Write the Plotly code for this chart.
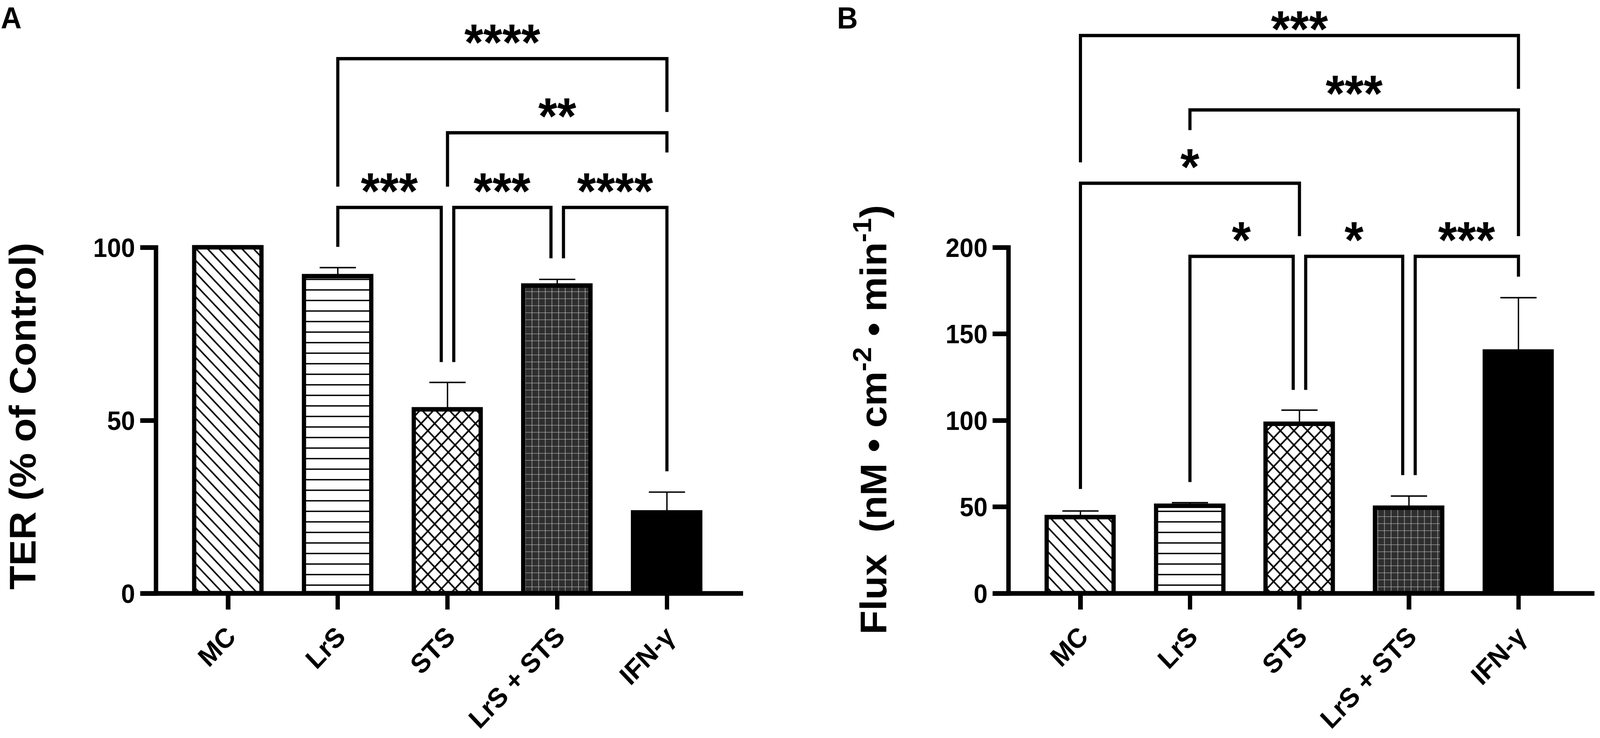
import plotly.graph_objects as go

# ---------------- data ----------------
categories = ["MC", "LrS", "STS", "LrS + STS", "IFN-γ"]

ter_mean = [100.0, 91.6, 53.2, 88.9, 23.3]
ter_sem = [0.0, 2.6, 7.8, 1.9, 6.0]
ter_ticks = [0, 50, 100]

flux_mean = [43.9, 50.6, 98.0, 49.5, 139.8]
flux_sem = [3.8, 1.9, 8.0, 6.8, 31.2]
flux_ticks = [0, 50, 100, 150, 200]

# significance brackets: left bar, right bar, bracket height, left-leg end, right-leg end,
# label, left-leg nudge, right-leg nudge (-1 / 0 / +1)
ter_brackets = [
    (1, 2, 111.6, 100.2, 66.9, "***", 0, -1),
    (2, 3, 111.6, 66.9, 96.9, "***", 1, -1),
    (3, 4, 111.6, 96.9, 35.3, "****", 1, 0),
    (2, 4, 133.2, 117.6, 127.5, "**", 0, 0),
    (1, 4, 154.6, 117.6, 139.2, "****", 0, 0),
]
flux_brackets = [
    (1, 2, 194.9, 64.4, 117.7, "*", 0, -1),
    (2, 3, 194.9, 117.7, 68.4, "*", 1, -1),
    (3, 4, 194.9, 68.4, 183.2, "***", 1, 0),
    (0, 2, 237.2, 60.4, 206.6, "*", 0, 0),
    (1, 4, 279.6, 267.9, 206.6, "***", 0, 0),
    (0, 4, 322.6, 249.3, 291.8, "***", 0, 0),
]

# ---------------- style ----------------
W, H = 4328, 1890
FONT = "Liberation Sans"
BLACK = "#000000"
X_RANGE = [-0.657, 4.694]
Y_BOTTOM_PX = 1551
PX_PER_UNIT_A = 9.04
PX_PER_UNIT_B = 4.52
AXIS_W = 12
TICK_LEN_Y = 42
TICK_LEN_X = 40
BRACKET_W = 8.5
NUDGE = 0.057
STAR_SIZE = 132
STAR_SHIFT = 42
STAR_HALF_BOX = 76  # half height of the star text box, px

patterns = dict(
    shape=["\\", "-", "x", "+", ""],
    bgcolor=["white", "white", "white", "#2e2e2e", BLACK],
    fgcolor=[BLACK, BLACK, BLACK, "#c8c8c8", BLACK],
    size=[22, 27, 26, 18, 10],
    solidity=[0.18, 0.13, 0.3, 0.13, 0.1],
)

panels = [
    dict(x0=422, x1=2010, mean=ter_mean, sem=ter_sem, ticks=ter_ticks,
         ppu=PX_PER_UNIT_A, brackets=ter_brackets, ax="x", ay="y",
         title="TER (% of Control)", title_x=61, title_y=1088,
         letter="A", letter_x=0),
    dict(x0=2728, x1=4313, mean=flux_mean, sem=flux_sem, ticks=flux_ticks,
         ppu=PX_PER_UNIT_B, brackets=flux_brackets, ax="x2", ay="y2",
         title="Flux\u00a0 (nM • cm<sup>-2</sup> • min<sup>-1</sup>)", title_x=2356, title_y=1097,
         letter="B", letter_x=2262),
]

fig = go.Figure()
shapes = []
annotations = []
layout = {}

for p in panels:
    xs = list(range(len(categories)))
    fig.add_trace(go.Bar(
        x=xs, y=p["mean"], width=0.613, xaxis=p["ax"], yaxis=p["ay"],
        marker=dict(color=BLACK, line=dict(color=BLACK, width=11.5),
                    pattern=dict(shape=patterns["shape"], bgcolor=patterns["bgcolor"],
                                 fgcolor=patterns["fgcolor"], size=patterns["size"],
                                 solidity=patterns["solidity"], fillmode="replace")),
        error_y=dict(type="data", symmetric=False, array=p["sem"],
                     arrayminus=[0] * len(xs), color=BLACK, thickness=3.7, width=49),
        showlegend=False, hoverinfo="skip",
    ))
    y_top = Y_BOTTOM_PX / p["ppu"]
    dom_w = p["x1"] - p["x0"]
    xname = "xaxis" if p["ax"] == "x" else "xaxis2"
    yname = "yaxis" if p["ay"] == "y" else "yaxis2"
    layout[xname] = dict(
        domain=[p["x0"] / W, p["x1"] / W], range=X_RANGE, anchor=p["ay"],
        tickmode="array", tickvals=xs, ticktext=categories, tickangle=-45,
        ticks="outside", ticklen=TICK_LEN_X, tickwidth=AXIS_W, tickcolor=BLACK,
        showline=False, showgrid=False, zeroline=False, fixedrange=True,
        tickfont=dict(family=FONT, size=70, color=BLACK, weight=700),
    )
    layout[yname] = dict(
        domain=[(H - Y_BOTTOM_PX) / H, 1.0], range=[0, y_top], anchor=p["ax"],
        tickmode="array", tickvals=p["ticks"], ticks="outside", ticklen=TICK_LEN_Y,
        tickwidth=AXIS_W, tickcolor=BLACK, showline=False, showgrid=False,
        zeroline=False, fixedrange=True,
        tickfont=dict(family=FONT, size=68, color=BLACK, weight=700),
    )
    xd = p["ax"] + " domain"
    yd = p["ay"] + " domain"
    # axis lines (GraphPad style: y line stops at the top tick, x line runs under the y ticks)
    shapes.append(dict(type="line", xref=xd, yref=yd, x0=-TICK_LEN_Y / dom_w, x1=1,
                       y0=0, y1=0, line=dict(color=BLACK, width=AXIS_W)))
    y_line_top = (max(p["ticks"]) + (AXIS_W / 2) / p["ppu"]) / y_top
    shapes.append(dict(type="line", xref=xd, yref=yd, x0=0, x1=0,
                       y0=-(AXIS_W / 2) / Y_BOTTOM_PX, y1=y_line_top,
                       line=dict(color=BLACK, width=AXIS_W)))
    # brackets
    for (i, j, h, yl, yr, lab, nl, nr) in p["brackets"]:
        xl = i + nl * NUDGE
        xr = j + nr * NUDGE
        shapes.append(dict(type="path", xref=p["ax"], yref=p["ay"],
                           path=f"M {xl},{yl} L {xl},{h} L {xr},{h} L {xr},{yr}",
                           line=dict(color=BLACK, width=BRACKET_W)))
        # keep the label's text box inside the page
        px_from_top = Y_BOTTOM_PX - h * p["ppu"]
        shift = min(STAR_SHIFT, px_from_top - STAR_HALF_BOX)
        annotations.append(dict(x=(xl + xr) / 2, y=h, xref=p["ax"], yref=p["ay"],
                                text=lab, showarrow=False, xanchor="center",
                                yanchor="middle", yshift=shift,
                                font=dict(family=FONT, size=STAR_SIZE, color=BLACK, weight=700)))
    # axis title
    annotations.append(dict(x=p["title_x"] / W, y=(H - p["title_y"]) / H, xref="paper",
                            yref="paper", text=p["title"], textangle=-90, showarrow=False,
                            xanchor="center", yanchor="middle",
                            font=dict(family=FONT, size=100, color=BLACK, weight=700)))
    # panel letter
    annotations.append(dict(x=p["letter_x"] / W, y=1.0, xref="paper", yref="paper",
                            text=p["letter"], showarrow=False, xanchor="left",
                            yanchor="top", font=dict(family=FONT, size=78, color=BLACK, weight=700)))

fig.update_layout(
    width=W, height=H, margin=dict(l=0, r=0, t=0, b=0),
    paper_bgcolor="white", plot_bgcolor="white",
    shapes=shapes, annotations=annotations, bargap=0, **layout,
)

# fit the fixed-size figure exactly into the browser viewport
fit_js = (
    "document.body.style.margin='0';"
    "document.body.style.overflow='hidden';"
    "document.body.style.background='white';"
    "var gd=document.getElementsByClassName('plotly-graph-div')[0];"
    "var sx=window.innerWidth/%d, sy=window.innerHeight/%d;"
    "if(!(sx>0)||!isFinite(sx)){sx=1;} if(!(sy>0)||!isFinite(sy)){sy=1;}"
    "gd.style.transformOrigin='0 0';gd.style.transform='scale('+sx+','+sy+')';" % (W, H)
)
fig.write_html("out.html", config={"displayModeBar": False}, post_script=fit_js)
